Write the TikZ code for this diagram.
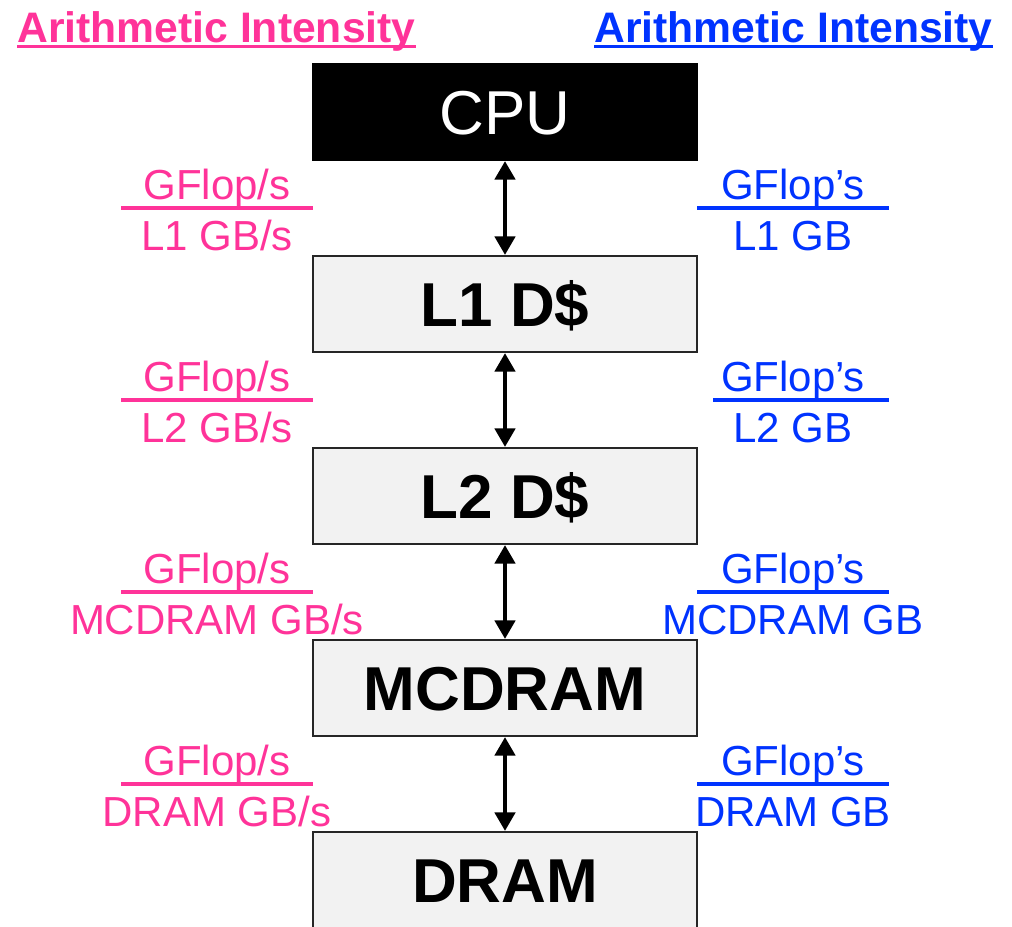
\documentclass[tikz,border=0pt]{standalone}
\usepackage{fontspec}
\setmainfont{Liberation Sans}
\usetikzlibrary{arrows.meta}
\definecolor{aipink}{HTML}{FF3399}
\definecolor{aiblue}{HTML}{0033FF}
\definecolor{boxgray}{HTML}{F2F2F2}

\begin{document}
\begin{tikzpicture}[x=0.75pt,y=-0.75pt,
  level/.style={draw=black!85, line width=1.5pt, fill=boxgray,
    minimum width=288pt, minimum height=72pt, inner sep=0pt,
    text height=33pt, text depth=0pt,
    font=\fontsize{46.5}{50}\selectfont\bfseries},
  cpubox/.style={level, fill=black, draw=black, text=white,
    font=\fontsize{46.5}{50}\selectfont},
  link/.style={line width=3.6pt,
    {Triangle[length=14pt,width=15pt]}-{Triangle[length=14pt,width=15pt]}},
  ratio/.style={inner sep=0pt, anchor=base, font=\fontsize{31.5}{36}\selectfont},
  bar/.style={line width=2.6pt},
  heading/.style={inner sep=0pt, font=\fontsize{32}{36}\selectfont\bfseries}]

\clip (0,0) rectangle (1012,926);
\fill[white] (0,0) rectangle (1012,926);

% column headings
\node[heading, text=aipink, anchor=base west] (titleL) at (17,42) {Arithmetic Intensity};
\node[heading, text=aiblue, anchor=base east] (titleR) at (993,42) {Arithmetic Intensity};
\draw[aipink, line width=2.25pt] ([yshift=-3.4pt]titleL.base west) -- ([yshift=-3.4pt]titleL.base east);
\draw[aiblue, line width=2.25pt] ([yshift=-3.4pt]titleR.base west) -- ([yshift=-3.4pt]titleR.base east);

% memory hierarchy
\node[cpubox] (cpu)    at (505,112) {CPU};
\node[level]  (l1)     at (505,304) {L1 D\$};
\node[level]  (l2)     at (505,496) {L2 D\$};
\node[level]  (mcdram) at (505,688) {MCDRAM};
\node[level]  (dram)   at (505,880) {DRAM};

\draw[link] (cpu.south)    -- (l1.north);
\draw[link] (l1.south)     -- (l2.north);
\draw[link] (l2.south)     -- (mcdram.north);
\draw[link] (mcdram.south) -- (dram.north);

% intensity ratios beside each link
\foreach \k/\lvl/\rx in {0/L1/697, 1/L2/713, 2/MCDRAM/697, 3/DRAM/697}{
  \pgfmathsetmacro{\dy}{192*\k}
  \node[ratio, text=aipink] (pnum\k) at (217,199+\dy) {GFlop/s};
  \node[ratio, text=aipink] (pden\k) at (217,250+\dy) {\lvl{} GB/s};
  \draw[bar, aipink] (121,208+\dy) -- (313,208+\dy);
  \node[ratio, text=aiblue] (bnum\k) at (793,199+\dy) {GFlop’s};
  \node[ratio, text=aiblue] (bden\k) at (793,250+\dy) {\lvl{} GB};
  \draw[bar, aiblue] (\rx,208+\dy) -- (889,208+\dy);
}
\end{tikzpicture}
\end{document}
